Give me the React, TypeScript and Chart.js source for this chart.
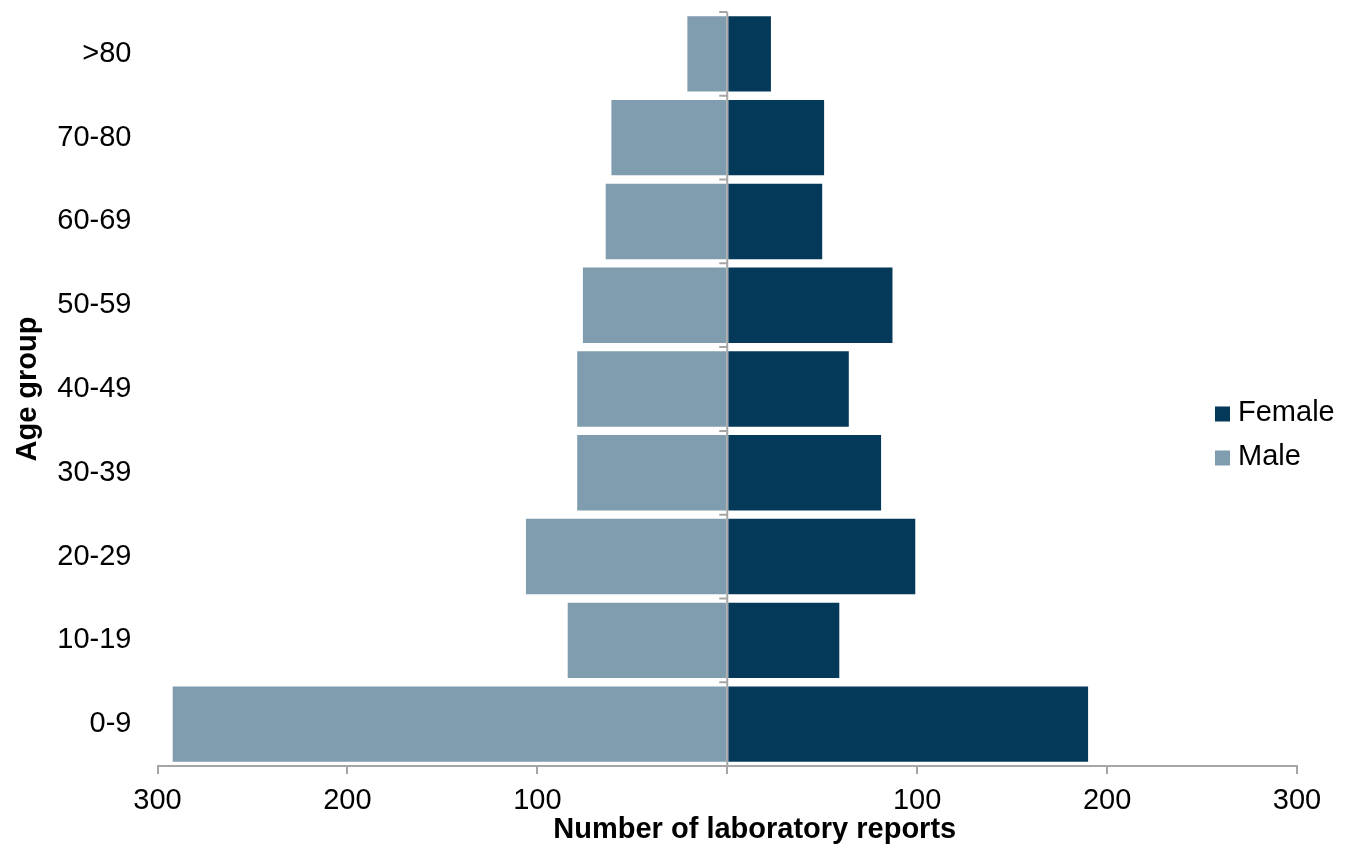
import React, { useEffect, useRef } from 'react';
import { Chart, registerables } from 'chart.js';

Chart.register(...registerables);

const categories = ['0-9', '10-19', '20-29', '30-39', '40-49', '50-59', '60-69', '70-80', '>80'];
const maleReports = [292, 84, 106, 79, 79, 76, 64, 61, 21];
const femaleReports = [190, 59, 99, 81, 64, 87, 50, 51, 23];
const xTickValues = [-300, -200, -100, 0, 100, 200, 300];
const xAxisTitle = 'Number of laboratory reports';
const yAxisTitle = 'Age group';

const FEMALE_COLOR = '#04395A';
const MALE_COLOR = '#7F9DAF';
const AXIS_COLOR = '#A6A6A6';
const FONT_FAMILY = '"Liberation Sans", Arial, sans-serif';

// vertical axis line at zero with tick marks at category boundaries
const centerAxis = {
  id: 'centerAxis',
  afterDatasetsDraw(chart: any) {
    const { ctx, chartArea, scales } = chart;
    const x0 = scales.x.getPixelForValue(0);
    const y = scales.y;
    const n = chart.data.labels.length;
    ctx.save();
    ctx.strokeStyle = AXIS_COLOR;
    ctx.lineWidth = 2;
    ctx.beginPath();
    ctx.moveTo(x0, chartArea.top);
    ctx.lineTo(x0, chartArea.bottom);
    for (let i = 0; i <= n; i++) {
      const a = y.getPixelForValue(Math.min(i, n - 1));
      const b = y.getPixelForValue(Math.max(i - 1, 0));
      let yy: number;
      if (i === 0) yy = a + (a - y.getPixelForValue(1)) / 2;
      else if (i === n) yy = b - (y.getPixelForValue(n - 2) - b) / 2;
      else yy = (a + b) / 2;
      ctx.moveTo(x0 - 8, yy);
      ctx.lineTo(x0, yy);
    }
    ctx.stroke();
    ctx.restore();
  },
};

const sideLegend = {
  id: 'sideLegend',
  afterDraw(chart: any) {
    const { ctx, chartArea } = chart;
    const items = chart.data.datasets;
    const x = chartArea.right - 82;
    const cy = chartArea.top + (chartArea.bottom - chartArea.top) * 0.561;
    const gap = 44;
    const y0 = cy - (gap * (items.length - 1)) / 2;
    ctx.save();
    items.forEach((ds: any, i: number) => {
      const y = y0 + i * gap;
      ctx.fillStyle = ds.backgroundColor;
      ctx.fillRect(x, y - 6.5, 15, 15);
      ctx.fillStyle = '#000';
      ctx.font = `29px ${FONT_FAMILY}`;
      ctx.textBaseline = 'middle';
      ctx.textAlign = 'left';
      ctx.fillText(ds.label, x + 23, y);
    });
    ctx.restore();
  },
};

// x axis title, centred between the plot's left edge and the canvas' right edge
const bottomTitle = {
  id: 'bottomTitle',
  afterDraw(chart: any) {
    const { ctx, chartArea } = chart;
    ctx.save();
    ctx.font = `bold 29px ${FONT_FAMILY}`;
    ctx.fillStyle = '#000';
    ctx.textAlign = 'center';
    ctx.textBaseline = 'middle';
    ctx.fillText(xAxisTitle, (chartArea.left + chart.width) / 2, chart.height - 26);
    ctx.restore();
  },
};

export default function App() {
  const canvasRef = useRef<HTMLCanvasElement | null>(null);

  useEffect(() => {
    document.body.style.margin = '0';
    const canvas = canvasRef.current;
    if (!canvas) return;
    const chart = new Chart(canvas, {
      type: 'bar',
      data: {
        labels: categories,
        datasets: [
          {
            label: 'Female',
            data: femaleReports,
            backgroundColor: FEMALE_COLOR,
            borderWidth: 0,
            barPercentage: 0.9,
            categoryPercentage: 1.0,
          },
          {
            label: 'Male',
            data: maleReports.map((v) => -v),
            backgroundColor: MALE_COLOR,
            borderWidth: 0,
            barPercentage: 0.9,
            categoryPercentage: 1.0,
          },
        ],
      },
      options: {
        indexAxis: 'y',
        animation: false,
        responsive: true,
        maintainAspectRatio: false,
        layout: { padding: { top: 12, right: 55, left: 0, bottom: 29 } },
        plugins: {
          legend: { display: false },
          tooltip: { enabled: false },
        },
        scales: {
          x: {
            type: 'linear',
            stacked: true,
            min: xTickValues[0],
            max: xTickValues[xTickValues.length - 1],
            afterBuildTicks: (scale: any) => {
              scale.ticks = xTickValues.map((v) => ({ value: v }));
            },
            ticks: {
              callback: (v: any) => (Number(v) === 0 ? '' : String(Math.abs(Number(v)))),
              color: '#000',
              font: { family: FONT_FAMILY, size: 29, lineHeight: 1 },
              padding: 12,
              maxRotation: 0,
            },
            grid: {
              drawOnChartArea: false,
              drawTicks: true,
              tickLength: 8,
              color: AXIS_COLOR,
              lineWidth: 2,
            },
            border: { display: true, color: AXIS_COLOR, width: 2 },
            title: { display: false },
          },
          y: {
            type: 'category',
            stacked: true,
            reverse: true,
            offset: true,
            afterFit: (scale: any) => {
              scale.width = 157.5;
              scale.paddingTop = 0;
              scale.paddingBottom = 0;
            },
            ticks: {
              color: '#000',
              font: { family: FONT_FAMILY, size: 29, lineHeight: 1 },
              padding: 26,
            },
            grid: { display: false, drawTicks: false },
            border: { display: false },
            title: {
              display: true,
              text: yAxisTitle,
              color: '#000',
              font: { family: FONT_FAMILY, size: 29, weight: 'bold', lineHeight: 1.2 },
              padding: { top: 11, bottom: 11 },
            },
          },
        },
      } as any,
      plugins: [centerAxis, sideLegend, bottomTitle],
    });
    return () => chart.destroy();
  }, []);

  return (
    <div style={{ position: 'relative', width: 1352, height: 856 }}>
      <canvas ref={canvasRef} />
    </div>
  );
}
